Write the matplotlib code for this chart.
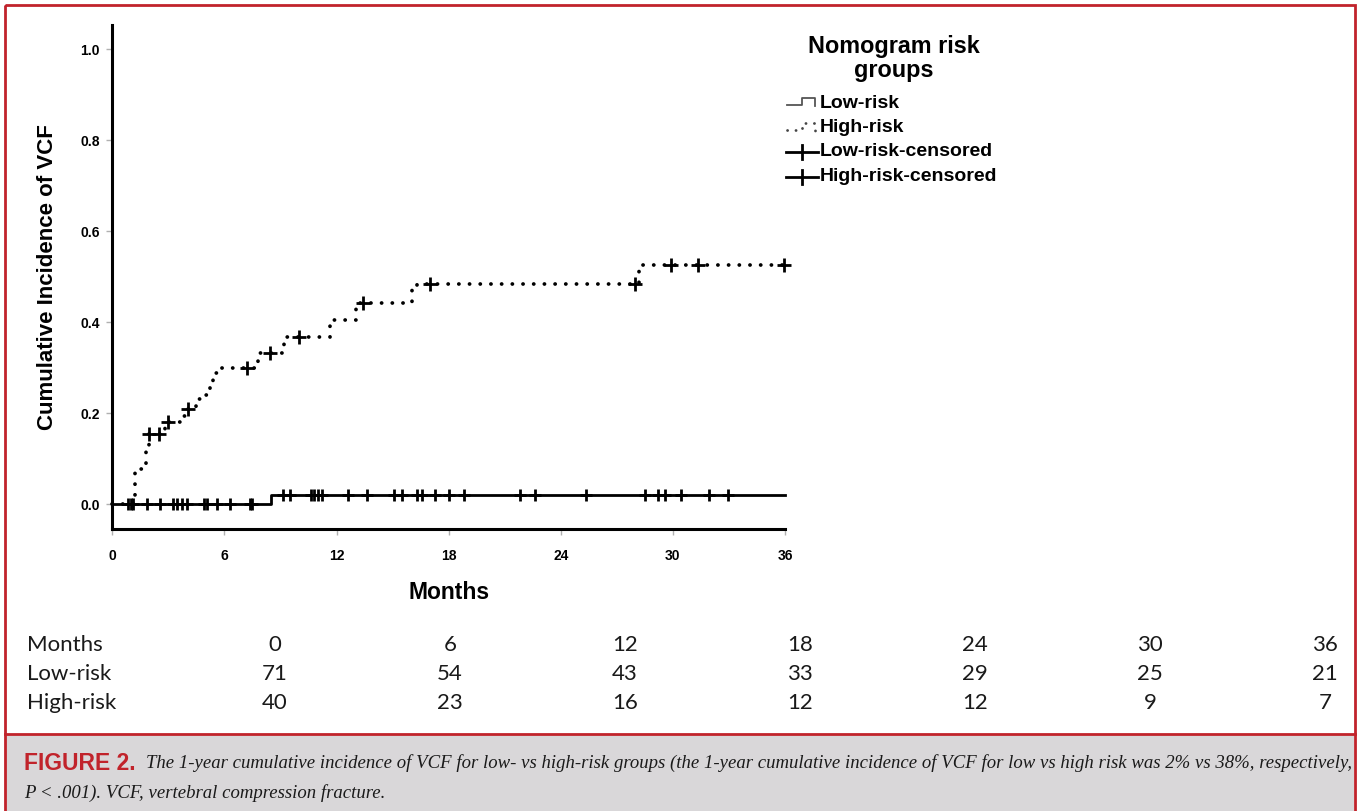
import numpy as np
import matplotlib.pyplot as plt
from matplotlib.patches import Rectangle

plt.rcParams['font.family'] = ['Liberation Sans', 'DejaVu Sans']
plt.rcParams['lines.scale_dashes'] = False

# --------------------------------------------------
# data
# --------------------------------------------------
low_t = [0, 8.47, 36]
low_y = [0, 0.021, 0.021]
low_cens_t = [0.86, 0.98, 1.12, 1.84, 2.55, 3.26, 3.48, 3.72, 4.01, 4.91, 5.05,
              5.62, 6.30, 7.37, 7.46,
              9.12, 9.51, 10.62, 10.81, 11.02, 11.21, 12.63, 13.61, 15.09, 15.52,
              16.29, 16.59, 17.27, 18.03, 18.82, 21.82, 22.62, 25.35, 28.51,
              29.19, 29.58, 30.44, 31.95, 32.93]

high_t = [0, 1.21, 1.79, 1.96, 2.82, 3.62, 3.94, 4.46, 4.78, 5.14, 5.23, 5.41,
          5.62, 7.81, 9.2, 11.65, 13.02, 16.02, 16.3, 28.2, 36]
high_y = [0, 0.077, 0.125, 0.154, 0.18, 0.193, 0.21, 0.231, 0.239, 0.251, 0.27,
          0.288, 0.30, 0.332, 0.368, 0.405, 0.442, 0.47, 0.483, 0.526, 0.526]
high_cens_t = [1.96, 2.5, 3.0, 4.07, 7.19, 8.44, 10.0, 13.43, 17.0, 27.97,
               29.9, 31.36, 35.96]

risk_months = [0, 6, 12, 18, 24, 30, 36]
risk_low = [71, 54, 43, 33, 29, 25, 21]
risk_high = [40, 23, 16, 12, 12, 9, 7]

caption_head = "FIGURE 2."
caption_l1 = ("The 1-year cumulative incidence of VCF for low- vs high-risk groups "
              "(the 1-year cumulative incidence of VCF for low vs high risk was "
              "2% vs 38%, respectively,")
caption_l2 = "P < .001). VCF, vertebral compression fracture."

# step value at the censor times
def step_at(ts, xs, ys):
    xs = np.asarray(xs)
    ys = np.asarray(ys)
    return [ys[np.searchsorted(xs, t, side='right') - 1] for t in ts]

low_cens_y = step_at(low_cens_t, low_t, low_y)
high_cens_y = step_at(high_cens_t, high_t, high_y)

# --------------------------------------------------
# figure
# --------------------------------------------------
W, H = 1364, 811
fig = plt.figure(figsize=(W / 100, H / 100), dpi=100)
fig.patch.set_facecolor('white')

# pixel-coordinate overlay for frame, legend, table and caption
bg = fig.add_axes([0, 0, 1, 1], zorder=-1)
bg.set_xlim(0, W)
bg.set_ylim(H, 0)
bg.axis('off')

red = '#c1232b'
bg.add_patch(Rectangle((6, 734.5), 1348, 80, facecolor='#d9d7d9', edgecolor='none'))
bg.add_patch(Rectangle((5.3, 4.6), 1349.4, 820, facecolor='none', edgecolor=red, lw=2.0))
bg.plot([5.3, 1354.7], [733.5, 733.5], color=red, lw=2.0)

# main plot
ax = fig.add_axes([112.3 / W, 1 - 529.3 / H, (785 - 112.3) / W, (529.3 - 25) / H])
ax.set_xlim(0, 36)
ax.set_ylim(-0.055, 1.053)

dots = (0, (0.1, 7.6))
ax.step(low_t, low_y, where='post', color='black', lw=2.0, clip_on=False)
ax.step(high_t, high_y, where='post', color='black', lw=2.7,
        linestyle=dots, dash_capstyle='round', clip_on=False)
ax.plot(low_cens_t, low_cens_y, ls='none', marker='+', ms=8, mew=2.0,
        color='black', clip_on=False)
ax.plot(high_cens_t, high_cens_y, ls='none', marker='+', ms=9.5, mew=2.0,
        color='black', clip_on=False)

for side in ['top', 'right']:
    ax.spines[side].set_visible(False)
for side in ['left', 'bottom']:
    ax.spines[side].set_linewidth(2.2)

ax.set_xticks(np.arange(0, 37, 6))
ax.set_yticks(np.arange(0, 1.01, 0.2))
ax.set_yticklabels([f"{v:.1f}" for v in np.arange(0, 1.01, 0.2)])
ax.tick_params(axis='both', direction='out', length=4, width=1, color='#b0b0b0',
               labelsize=10)
ax.tick_params(axis='x', pad=10)
ax.tick_params(axis='y', pad=5)
for lab in ax.get_xticklabels() + ax.get_yticklabels():
    lab.set_fontweight('bold')

ax.set_xlabel("Months", fontsize=16.5, fontweight='bold', labelpad=13)
ax.set_ylabel("Cumulative Incidence of VCF", fontsize=16, fontweight='bold',
              labelpad=16)

# legend
bg.text(894, 47, "Nomogram risk", ha='center', va='center', fontsize=16.8,
        fontweight='bold')
bg.text(894, 71, "groups", ha='center', va='center', fontsize=16.8,
        fontweight='bold')
leg_labels = ["Low-risk", "High-risk", "Low-risk-censored", "High-risk-censored"]
leg_y = [103, 127.5, 152, 176.5]
for lab, yy in zip(leg_labels, leg_y):
    bg.text(820, yy, lab, ha='left', va='center', fontsize=14, fontweight='bold')
yy = leg_y[0]
bg.plot([787, 802, 802, 815, 815], [yy + 2, yy + 2, yy - 5, yy - 5, yy + 3],
        color='#555555', lw=1.3)
yy = leg_y[1]
bg.plot([787, 802, 802, 815, 815], [yy + 2, yy + 2, yy - 5, yy - 5, yy + 3],
        color='#444444', lw=2.0, linestyle=(0, (0.1, 6.0)), dash_capstyle='round')
for yy in leg_y[2:]:
    bg.plot([786, 818], [yy, yy], color='black', lw=2.0)
    bg.plot([802, 802], [yy - 7, yy + 7], color='black', lw=2.0)

# number at risk table
tab_font = ['Lato', 'DejaVu Sans']
col_x = [275 + 175 * i for i in range(len(risk_months))]
rows = [("Months", risk_months, 645), ("Low-risk", risk_low, 674),
        ("High-risk", risk_high, 703)]
for name, vals, yy in rows:
    bg.text(27, yy, name, ha='left', va='center', fontsize=16, family=tab_font,
            color='#1a1a1a')
    for xx, v in zip(col_x, vals):
        bg.text(xx, yy, str(v), ha='center', va='center', fontsize=16,
                family=tab_font, color='#1a1a1a')

# caption
head = bg.text(24, 763, caption_head, ha='left', va='center', fontsize=16.5,
               fontweight='bold', color=red,
               family=['Liberation Sans Narrow', 'Liberation Sans'])
fig.canvas.draw()
r = fig.canvas.get_renderer()
hb = head.get_window_extent(r)
x1 = hb.x1 + 10
cap_font = ['Liberation Serif', 'DejaVu Serif']
t1 = bg.text(x1, 763, caption_l1, ha='left', va='center', fontsize=12,
             style='italic', family=cap_font, color='#1a1a1a')
fig.canvas.draw()
w1 = t1.get_window_extent(r).width
fs = 12 * (1350 - x1) / w1
t1.set_fontsize(fs)
bg.text(24, 793, caption_l2, ha='left', va='center', fontsize=fs,
        style='italic', family=cap_font, color='#1a1a1a')

fig.savefig("out.png", dpi=100)
